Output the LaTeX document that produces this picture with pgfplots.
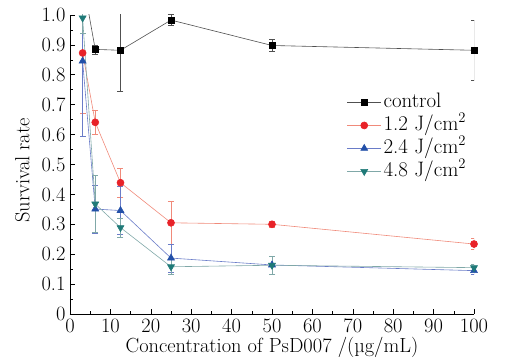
\documentclass[border=0pt]{standalone}
\usepackage{pgfplots}
\pgfplotsset{compat=1.18}
\usepackage{pgfplotstable}
\definecolor{cline}{HTML}{505050}
\definecolor{rmark}{HTML}{E82228}
\definecolor{rline}{HTML}{F08A7A}
\definecolor{bmark}{HTML}{2350A8}
\definecolor{bline}{HTML}{6A7CC8}
\definecolor{tmark}{HTML}{1F7A78}
\definecolor{tline}{HTML}{80A8A8}
\pgfplotstableread{
x y ey
3.125 1.12 0.0
6.25 0.885 0.015
12.5 0.882 0.137
25 0.983 0.018
50 0.898 0.02
100 0.882 0.1
}\control
\pgfplotstableread{
x y ey
3.125 0.873 0.2
6.25 0.641 0.04
12.5 0.439 0.05
25 0.305 0.073
50 0.300 0.01
100 0.234 0.018
}\rone
\pgfplotstableread{
x y ey
3.125 0.846 0.25
6.25 0.351 0.08
12.5 0.346 0.08
25 0.187 0.047
50 0.164 0.03
100 0.145 0.012
}\rtwo
\pgfplotstableread{
x y ey
3.125 0.99 0.05
6.25 0.368 0.095
12.5 0.289 0.033
25 0.158 0.025
50 0.163 0.03
100 0.155 0.01
}\rfour
\begin{document}
\begin{tikzpicture}
\begin{axis}[
  scale only axis, width=404bp, height=299bp,
  xmin=0, xmax=100, ymin=0, ymax=1,
  axis lines*=left,
  tick align=inside,
  xtick={0,10,...,100},
  minor x tick num=1,
  ytick={0,0.1,...,1.0},
  yticklabels={0,0.1,0.2,0.3,0.4,0.5,0.6,0.7,0.8,0.9,1.0},
  minor y tick num=1,
  major tick length=5bp, minor tick length=3bp,
  tick style={black, line width=0.6pt},
  axis line style={line width=0.8pt},
  /pgf/number format/assume math mode=true,
  tick label style={font=\fontsize{20.5}{23}\selectfont},
  xticklabel style={yshift=-1bp},
  yticklabel style={xshift=-1bp},
  label style={font=\fontsize{20.5}{23}\selectfont},
  xlabel={Concentration of PsD007 /(µg/mL)},
  ylabel={Survival rate},
  xlabel style={yshift=2bp},
  ylabel style={at={(ticklabel cs:0.48)}, yshift=5bp},
  legend style={draw=none, fill=none, font=\fontsize{21}{23}\selectfont,
    at={(rel axis cs:0.685,0.745)}, anchor=north west, row sep=1bp,
    inner sep=0pt, nodes={text height=14bp, text depth=4bp, inner sep=2bp}},
  legend cell align=left,
  legend image code/.code={\draw[mark repeat=2,mark phase=2] plot coordinates {(0cm,0cm)(0.6cm,0cm)(1.2cm,0cm)};},
  error bars/y dir=both, error bars/y explicit,
]
\addplot[cline, line width=0.6pt, mark=square*, mark size=3bp, mark options={black, fill=black},
  error bars/error bar style={cline, line width=0.6pt},
  error bars/error mark options={rotate=90, mark size=3bp, cline}]
  table[x=x, y=y, y error=ey] {\control};
\addlegendentry{control}
\addplot[rline, line width=0.6pt, mark=*, mark size=3.5bp, mark options={rmark, fill=rmark},
  error bars/error bar style={rline, line width=0.6pt},
  error bars/error mark options={rotate=90, mark size=3bp, rline}]
  table[x=x, y=y, y error=ey] {\rone};
\addlegendentry{1.2 J/cm\textsuperscript{2}}
\addplot[bline, line width=0.6pt, mark=triangle*, mark size=4bp, mark options={bmark, fill=bmark},
  error bars/error bar style={bline, line width=0.6pt},
  error bars/error mark options={rotate=90, mark size=3bp, bline}]
  table[x=x, y=y, y error=ey] {\rtwo};
\addlegendentry{2.4 J/cm\textsuperscript{2}}
\addplot[tline, line width=0.6pt, mark=triangle*, mark size=4bp, mark options={tmark, fill=tmark, rotate=180},
  error bars/error bar style={tline, line width=0.6pt},
  error bars/error mark options={rotate=90, mark size=3bp, tline}]
  table[x=x, y=y, y error=ey] {\rfour};
\addlegendentry{4.8 J/cm\textsuperscript{2}}
\end{axis}
\pgfresetboundingbox
\path[use as bounding box] (current axis.south west) ++(-70bp,-49bp) rectangle ++(507bp,363bp);
\end{tikzpicture}
\end{document}
